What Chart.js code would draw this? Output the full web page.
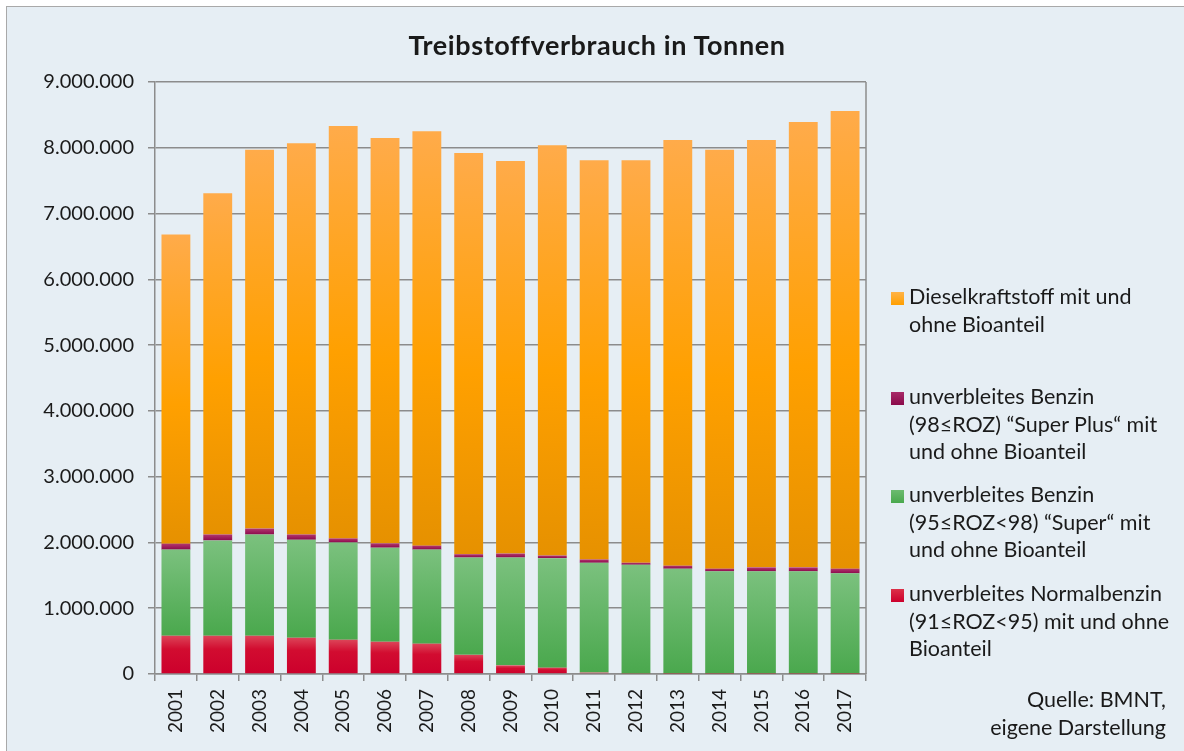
<!DOCTYPE html>
<html>
<head>
<meta charset="utf-8">
<script src="https://cdn.jsdelivr.net/npm/chart.js@4.4.1/dist/chart.umd.min.js"></script>
<style>
  html, body { margin: 0; padding: 0; background: #ffffff; }
  body { width: 1184px; height: 751px; position: relative; overflow: hidden; font-family: Lato, "Open Sans", sans-serif; color: #1a1a1a; }
  #frame { position: absolute; left: 6px; top: 6px; width: 1190px; height: 760px; background: #e6eef4; border: 1.5px solid #a9a9a9; box-sizing: border-box; }
  #wrap { position: absolute; left: 0; top: 0; width: 1184px; height: 751px; }
  #title { position: absolute; left: 0; width: 1194px; top: 29px; text-align: center; font-weight: bold; font-size: 27px; letter-spacing: 0.6px; line-height: 32px; }
  .leg { position: absolute; left: 909px; font-size: 21.5px; line-height: 27.5px; white-space: nowrap; }
  .sq { position: absolute; left: 891px; width: 13px; height: 13px; }
  #src { position: absolute; right: 18px; top: 685px; text-align: right; font-size: 21.5px; line-height: 28px; }
</style>
</head>
<body>
<div id="frame"></div>
<div id="wrap"><canvas id="c" width="1184" height="751"></canvas></div>
<div id="title">Treibstoffverbrauch in Tonnen</div>

<div class="sq" style="top:292px;background:linear-gradient(#ffb347,#ff9f00);"></div>
<div class="leg" style="top:283px;">Dieselkraftstoff mit und<br>ohne Bioanteil</div>

<div class="sq" style="top:392px;background:linear-gradient(#a82a68,#8a0a4a);"></div>
<div class="leg" style="top:383px;">unverbleites Benzin<br>(98≤ROZ) “Super Plus“ mit<br>und ohne Bioanteil</div>

<div class="sq" style="top:490px;background:linear-gradient(#6cbb70,#49a84d);"></div>
<div class="leg" style="top:481px;">unverbleites Benzin<br>(95≤ROZ&lt;98) “Super“ mit<br>und ohne Bioanteil</div>

<div class="sq" style="top:589px;background:linear-gradient(#dc3048,#cc002c);"></div>
<div class="leg" style="top:580px;">unverbleites Normalbenzin<br>(91≤ROZ&lt;95) mit und ohne<br>Bioanteil</div>

<div id="src">Quelle: BMNT,<br>eigene Darstellung</div>

<script>
const years = ['2001','2002','2003','2004','2005','2006','2007','2008','2009','2010','2011','2012','2013','2014','2015','2016','2017'];
const normalbenzin = [580000, 580000, 580000, 550000, 520000, 490000, 460000, 290000, 130000, 95000, 20000, 8000, 6000, 6000, 6000, 6000, 5000];
const superBenzin = [1310000, 1450000, 1540000, 1490000, 1480000, 1430000, 1430000, 1480000, 1640000, 1665000, 1670000, 1652000, 1594000, 1554000, 1554000, 1554000, 1525000];
const superPlus = [90000, 90000, 90000, 80000, 60000, 65000, 60000, 50000, 60000, 40000, 50000, 30000, 45000, 40000, 60000, 60000, 70000];
const diesel = [4700000, 5190000, 5760000, 5950000, 6270000, 6165000, 6300000, 6100000, 5970000, 6240000, 6070000, 6120000, 6475000, 6370000, 6500000, 6770000, 6960000];
const yTicks = [0, 1000000, 2000000, 3000000, 4000000, 5000000, 6000000, 7000000, 8000000, 9000000];

const labels = {
  diesel: 'Dieselkraftstoff mit und ohne Bioanteil',
  superPlus: 'unverbleites Benzin (98≤ROZ) “Super Plus“ mit und ohne Bioanteil',
  superB: 'unverbleites Benzin (95≤ROZ<98) “Super“ mit und ohne Bioanteil',
  normal: 'unverbleites Normalbenzin (91≤ROZ<95) mit und ohne Bioanteil'
};

function gradFill(stops, solid) {
  return function(ctx) {
    const chart = ctx.chart;
    if (!chart.chartArea || ctx.type !== 'data') return solid;
    const y = chart.scales.y;
    const di = ctx.datasetIndex, i = ctx.dataIndex;
    let start = 0;
    for (let k = 0; k < di; k++) start += chart.data.datasets[k].data[i];
    const end = start + chart.data.datasets[di].data[i];
    const y0 = y.getPixelForValue(end), y1 = y.getPixelForValue(start);
    if (!isFinite(y0) || !isFinite(y1) || y1 - y0 < 1) return solid;
    const g = chart.ctx.createLinearGradient(0, y0, 0, y1);
    stops.forEach(s => g.addColorStop(s[0], s[1]));
    return g;
  };
}

const rightBorder = {
  id: 'rightBorder',
  afterDatasetsDraw(chart) {
    const {ctx, chartArea} = chart;
    ctx.save();
    ctx.strokeStyle = '#8c8c8c';
    ctx.lineWidth = 1.5;
    ctx.beginPath();
    ctx.moveTo(chartArea.right, chartArea.top);
    ctx.lineTo(chartArea.right, chartArea.bottom);
    ctx.stroke();
    ctx.restore();
  }
};

new Chart(document.getElementById('c'), {
  type: 'bar',
  data: {
    labels: years,
    datasets: [
      { label: labels.normal, data: normalbenzin, backgroundColor: gradFill([[0,'#dc4458'],[0.35,'#d20c30'],[1,'#cc002c']], '#d0002f') },
      { label: labels.superB, data: superBenzin, backgroundColor: gradFill([[0,'#7bc17e'],[1,'#4aa84d']], '#5cb860') },
      { label: labels.superPlus, data: superPlus, backgroundColor: gradFill([[0,'#b2366f'],[1,'#8c0a4c']], '#940f52') },
      { label: labels.diesel, data: diesel, backgroundColor: gradFill([[0,'#ffab4a'],[0.55,'#ffa000'],[1,'#e69100']], '#ffa000') }
    ]
  },
  options: {
    responsive: false,
    animation: false,
    layout: { padding: { top: 82, right: 318, bottom: 10, left: 0 } },
    datasets: { bar: { barPercentage: 0.69, categoryPercentage: 1.0, borderWidth: 0 } },
    plugins: {
      legend: { display: false },
      title: { display: false },
      tooltip: { enabled: false }
    },
    scales: {
      x: {
        stacked: true,
        grid: { display: true, drawOnChartArea: false, drawTicks: true, tickLength: 7, color: '#8c8c8c', lineWidth: 1.5, offset: true },
        border: { display: true, color: '#8c8c8c', width: 1.5 },
        ticks: { maxRotation: 90, minRotation: 90, padding: 8, color: '#1a1a1a', font: { family: 'Lato', size: 19 }, autoSkip: false }
      },
      y: {
        stacked: true,
        min: 0, max: 9000000,
        afterFit(scale) { scale.width = 155; },
        afterBuildTicks(scale) { scale.ticks = yTicks.map(v => ({ value: v })); },
        grid: { color: '#8c8c8c', lineWidth: 1.5, tickLength: 7, drawTicks: true },
        border: { display: true, color: '#8c8c8c', width: 1.5 },
        ticks: {
          padding: 14, color: '#1a1a1a', font: { family: 'Lato', size: 20 },
          callback: v => v.toLocaleString('de-DE')
        }
      }
    }
  },
  plugins: [rightBorder]
});
</script>
</body>
</html>
